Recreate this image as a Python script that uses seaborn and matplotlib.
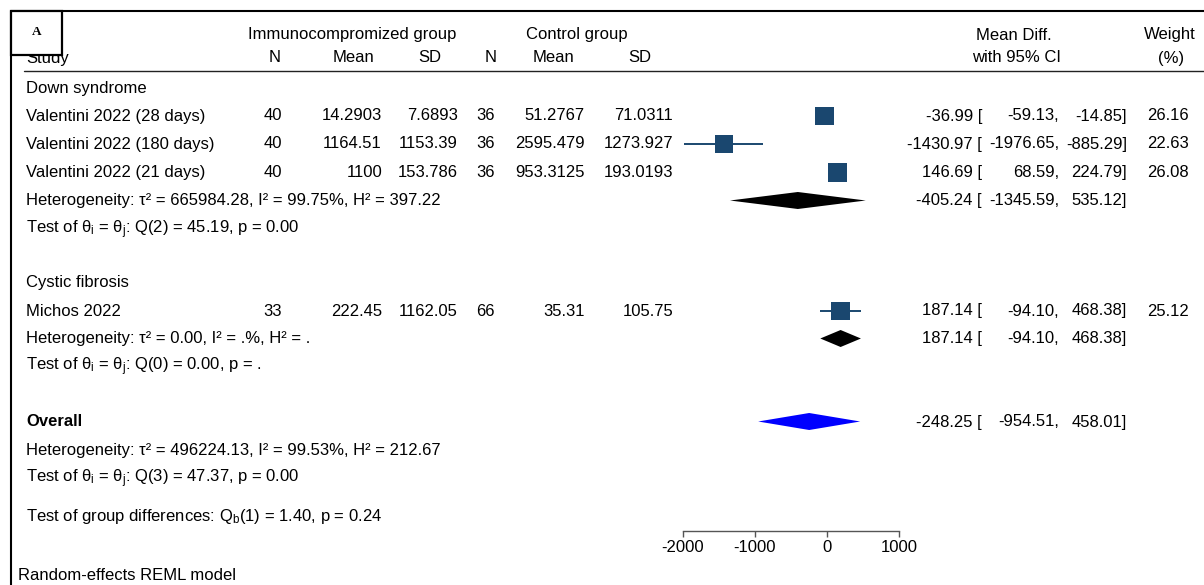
import numpy as np
import pandas as pd
import matplotlib
matplotlib.use("Agg")
import matplotlib.pyplot as plt
from matplotlib.patches import Rectangle
import seaborn as sns

# Donnees du forest plot
studies = ["Valentini 2022 (28 days)", "Valentini 2022 (180 days)",
           "Valentini 2022 (21 days)", "Michos 2022"]
groups = ["Down syndrome", "Down syndrome", "Down syndrome", "Cystic fibrosis"]
n_imm = ["40", "40", "40", "33"]
mean_imm = ["14.2903", "1164.51", "1100", "222.45"]
sd_imm = ["7.6893", "1153.39", "153.786", "1162.05"]
n_ctl = ["36", "36", "36", "66"]
mean_ctl = ["51.2767", "2595.479", "953.3125", "35.31"]
sd_ctl = ["71.0311", "1273.927", "193.0193", "105.75"]
md = [-36.99, -1430.97, 146.69, 187.14]
ci_lo = [-59.13, -1976.65, 68.59, -94.10]
ci_hi = [-14.85, -885.29, 224.79, 468.38]
weights = [26.16, 22.63, 26.08, 25.12]

sub_names = ["Down syndrome", "Cystic fibrosis"]
sub_md = [-405.24, 187.14]
sub_lo = [-1345.59, -94.10]
sub_hi = [535.12, 468.38]
sub_het = ["Heterogeneity: τ² = 665984.28, I² = 99.75%, H² = 397.22",
           "Heterogeneity: τ² = 0.00, I² = .%, H² = ."]
theta_ij = r"$\mathregular{\theta_i}$ = $\mathregular{\theta_j}$"
sub_test = ["Test of " + theta_ij + ": Q(2) = 45.19, p = 0.00",
            "Test of " + theta_ij + ": Q(0) = 0.00, p = ."]

overall_md = -248.25
overall_lo = -954.51
overall_hi = 458.01
overall_het = "Heterogeneity: τ² = 496224.13, I² = 99.53%, H² = 212.67"
overall_test = "Test of " + theta_ij + ": Q(3) = 47.37, p = 0.00"
group_diff = r"Test of group differences: $\mathregular{Q_b}$(1) = 1.40, p = 0.24"
x_ticks = [-2000, -1000, 0, 1000]

# mise en page (pixels depuis le haut)
W, H = 1204, 585
y_study = [116, 144, 172.5, 311]
y_grp = [88, 283]
y_sub = [200.5, 338.5]
y_sub_test = [230, 367]
y_overall = 421.5
y_axis = 530.7

sns.set_style("white")
plt.rcParams["font.family"] = ["Liberation Sans", "DejaVu Sans"]
plt.rcParams["mathtext.fontset"] = "custom"
plt.rcParams["mathtext.rm"] = "Liberation Sans"
plt.rcParams["mathtext.it"] = "Liberation Sans"
plt.rcParams["text.color"] = "black"
plt.rcParams["xtick.color"] = "black"
fs = 12

fig = plt.figure(figsize=(W / 100, H / 100), dpi=100)
fig.patch.set_facecolor("white")

# axe du forest plot : -2000 -> 682.7 px, 1000 -> 899.3 px
fax = fig.add_axes([682.7 / W, (H - y_axis) / H, (899.3 - 682.7) / W, y_axis / H])
fax.set_xlim(-2000, 1000)
fax.set_ylim(y_axis, 0)
fax.patch.set_alpha(0)

navy = "#1a476f"
df = pd.DataFrame({"study": studies, "md": md, "lo": ci_lo, "hi": ci_hi,
                   "weight": weights, "y": y_study})
fax.hlines(df["y"], df["lo"], df["hi"], color=navy, lw=1.4, zorder=2, clip_on=False)
sns.scatterplot(data=df, x="md", y="y", size="weight", sizes=(0, 30 * 7.0),
                size_norm=(0, 30), marker="s", color=navy, edgecolor="none",
                legend=False, ax=fax, zorder=3, clip_on=False)

dh = 8.5
for m, lo, hi, yy in zip(sub_md, sub_lo, sub_hi, y_sub):
    fax.fill([lo, m, hi, m], [yy, yy - dh, yy, yy + dh], color="black", lw=0, clip_on=False)
fax.fill([overall_lo, overall_md, overall_hi, overall_md],
         [y_overall, y_overall - dh, y_overall, y_overall + dh],
         color="#0000ff", lw=0, clip_on=False)

sns.despine(ax=fax, left=True, top=True, right=True)
fax.spines["bottom"].set_color("#555555")
fax.spines["bottom"].set_linewidth(1.0)
fax.set_xticks(x_ticks)
fax.set_xticklabels([str(t) for t in x_ticks])
fax.tick_params(axis="x", direction="out", length=4, width=1.0, color="#555555",
                labelcolor="black", labelsize=fs, pad=3, bottom=True)
fax.set_yticks([])
fax.set_xlabel("")
fax.set_ylabel("")

# axe texte en pixels
tax = fig.add_axes([0, 0, 1, 1])
tax.set_xlim(0, W)
tax.set_ylim(H, 0)
tax.axis("off")
tax.patch.set_alpha(0)

def txt(x, y, s, ha="left", **kw):
    tax.text(x, y, s, ha=ha, va="center", fontsize=fs, color="black", **kw)

# colonnes (bord droit)
cols_r = [282, 382, 458, 495, 585, 673]
x_est, x_lo, x_hi, x_w = 982, 1059, 1127, 1189

# en-tetes
txt(352, 35, "Immunocompromized group", ha="center")
txt(577, 35, "Control group", ha="center")
txt(1014, 35, "Mean Diff.", ha="center")
txt(1170, 35, "Weight", ha="center")
txt(26, 59, "Study")
for x, s in zip([275, 353, 430, 491, 554, 640], ["N", "Mean", "SD", "N", "Mean", "SD"]):
    txt(x, 58, s, ha="center")
txt(1017, 58, "with 95% CI", ha="center")
txt(1171, 58, "(%)", ha="center")
tax.plot([24, W], [71, 71], color="#222222", lw=1.0)

for i in range(len(studies)):
    yy = y_study[i]
    txt(26, yy, studies[i])
    for x, v in zip(cols_r, [n_imm[i], mean_imm[i], sd_imm[i],
                             n_ctl[i], mean_ctl[i], sd_ctl[i]]):
        txt(x, yy, v, ha="right")
    txt(x_est, yy, f"{md[i]:.2f} [", ha="right")
    txt(x_lo, yy, f"{ci_lo[i]:.2f},", ha="right")
    txt(x_hi, yy, f"{ci_hi[i]:.2f}]", ha="right")
    txt(x_w, yy, f"{weights[i]:.2f}", ha="right")

for k in range(len(sub_names)):
    txt(26, y_grp[k], sub_names[k])
    txt(26, y_sub[k], sub_het[k])
    txt(26, y_sub_test[k], sub_test[k])
    txt(x_est, y_sub[k], f"{sub_md[k]:.2f} [", ha="right")
    txt(x_lo, y_sub[k], f"{sub_lo[k]:.2f},", ha="right")
    txt(x_hi, y_sub[k], f"{sub_hi[k]:.2f}]", ha="right")

txt(26, 422, "Overall", fontweight="bold")
txt(x_est, 422, f"{overall_md:.2f} [", ha="right")
txt(x_lo, 422, f"{overall_lo:.2f},", ha="right")
txt(x_hi, 422, f"{overall_hi:.2f}]", ha="right")
txt(26, 450, overall_het)
txt(26, 479, overall_test)
txt(26, 517, group_diff)
txt(18, 576, "Random-effects REML model")

# cadre et etiquette A
tax.plot([11, W], [11, 11], color="black", lw=1.5, solid_capstyle="butt")
tax.plot([11, 11], [11, H], color="black", lw=1.5, solid_capstyle="butt")
tax.add_patch(Rectangle((11, 11), 51, 44, facecolor="white", edgecolor="black",
                        lw=1.6, zorder=5))
tax.text(37, 32, "A", ha="center", va="center", fontsize=9.5, fontweight="bold",
         color="black", family=["Liberation Serif", "DejaVu Serif"], zorder=6)

fig.savefig("out.png", dpi=100)
